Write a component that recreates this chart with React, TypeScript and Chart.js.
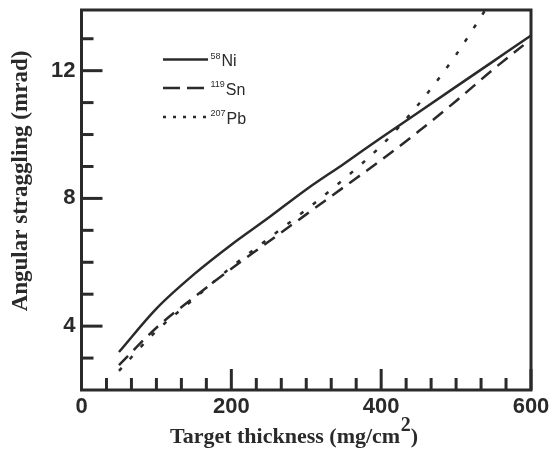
import { useEffect, useRef } from "react";
import { Chart, registerables } from "chart.js";

Chart.register(...registerables);

// ---- data ----
const niThickness = [50, 100, 150, 200, 250, 300, 350, 400, 450, 500, 550, 600];
const niStraggling = [3.19, 4.55, 5.62, 6.55, 7.4, 8.28, 9.08, 9.9, 10.7, 11.5, 12.3, 13.1];

const snThickness = [50, 100, 150, 200, 250, 300, 350, 400, 450, 500, 550, 590];
const snStraggling = [2.78, 3.95, 4.9, 5.8, 6.65, 7.5, 8.35, 9.2, 10.1, 11.05, 12.05, 12.8];

const pbThickness = [50, 100, 150, 200, 250, 300, 350, 400, 450, 500, 550];
const pbStraggling = [2.6, 3.85, 4.85, 5.85, 6.75, 7.65, 8.6, 9.65, 10.95, 12.5, 14.3];

const xMajorTicks = [0, 200, 400, 600];
const xMinorTicks = [
  100 / 3, 200 / 3, 100, 400 / 3, 500 / 3,
  700 / 3, 800 / 3, 300, 1000 / 3, 1100 / 3,
  1300 / 3, 1400 / 3, 500, 1600 / 3, 1700 / 3,
];
const yMajorTicks = [4, 8, 12];
const yMinorTicks = [3, 5, 6, 7, 9, 10, 11, 13];

const seriesLabels = [
  { sup: "58", main: "Ni" },
  { sup: "119", main: "Sn" },
  { sup: "207", main: "Pb" },
];
const xTitle = "Target thickness (mg/cm";
const xTitleSup = "2";
const xTitleEnd = ")";
const yTitle = "Angular straggling (mrad)";

const INK = "#2a2a2a";
const dashStyles: number[][] = [[], [13, 8], [4, 12]];
const legendDash: number[][] = [[], [17, 7], [3, 7]];

const decorPlugin = {
  id: "decor",
  afterDraw(chart: any) {
    const { ctx, chartArea, scales } = chart;
    const { left, right, top, bottom } = chartArea;
    const xs = scales.x;
    const ys = scales.y;
    ctx.save();
    ctx.strokeStyle = INK;
    ctx.fillStyle = INK;
    ctx.lineCap = "butt";
    // inward ticks
    ctx.lineWidth = 3;
    const tick = (x1: number, y1: number, x2: number, y2: number) => {
      ctx.beginPath();
      ctx.moveTo(x1, y1);
      ctx.lineTo(x2, y2);
      ctx.stroke();
    };
    xMajorTicks.forEach((v) => {
      const p = xs.getPixelForValue(v);
      tick(p, bottom, p, bottom - 21);
    });
    xMinorTicks.forEach((v) => {
      const p = xs.getPixelForValue(v);
      tick(p, bottom, p, bottom - 12);
    });
    yMajorTicks.forEach((v) => {
      const p = ys.getPixelForValue(v);
      tick(left, p, left + 21, p);
    });
    yMinorTicks.forEach((v) => {
      const p = ys.getPixelForValue(v);
      tick(left, p, left + 12, p);
    });
    // frame
    ctx.lineWidth = 3;
    ctx.strokeRect(left, top, right - left, bottom - top);

    // axis titles
    ctx.font = "bold 22px 'Liberation Serif'";
    ctx.textAlign = "left";
    ctx.textBaseline = "alphabetic";
    const tx = 170;
    const tb = 443;
    ctx.fillText(xTitle, tx, tb);
    const w1 = ctx.measureText(xTitle).width;
    ctx.font = "bold 20px 'Liberation Serif'";
    ctx.fillText(xTitleSup, tx + w1 + 0.5, tb - 12);
    const w2 = ctx.measureText(xTitleSup).width;
    ctx.font = "bold 22px 'Liberation Serif'";
    ctx.fillText(xTitleEnd, tx + w1 + w2 + 0.5, tb);

    ctx.save();
    ctx.translate(27, 181);
    ctx.rotate(-Math.PI / 2);
    ctx.font = "bold 23px 'Liberation Serif'";
    ctx.textAlign = "center";
    ctx.fillText(yTitle, 0, 0);
    ctx.restore();

    // legend
    const rowY = [top + 49.5, top + 78, top + 107];
    const lx0 = left + 81.5;
    const lx1 = left + 126.5;
    seriesLabels.forEach((s, i) => {
      const y = rowY[i];
      ctx.lineWidth = 2.5;
      ctx.setLineDash(legendDash[i]);
      ctx.beginPath();
      ctx.moveTo(lx0, y);
      ctx.lineTo(lx1, y);
      ctx.stroke();
      ctx.setLineDash([]);
      ctx.textAlign = "left";
      ctx.font = "9px 'Liberation Sans'";
      const sx = left + 129;
      ctx.fillText(s.sup, sx, y - 1);
      const sw = ctx.measureText(s.sup).width;
      ctx.font = "16px 'Liberation Sans'";
      ctx.fillText(s.main, sx + sw + 1, y + 6.5);
    });
    ctx.restore();
  },
};

export default function App() {
  const canvasRef = useRef<HTMLCanvasElement | null>(null);

  useEffect(() => {
    if (!canvasRef.current) return;
    const mk = (xsArr: number[], ysArr: number[]) =>
      xsArr.map((x, i) => ({ x, y: ysArr[i] }));
    const data = [
      mk(niThickness, niStraggling),
      mk(snThickness, snStraggling),
      mk(pbThickness, pbStraggling),
    ];
    const chart = new Chart(canvasRef.current, {
      type: "line",
      data: {
        datasets: data.map((d, i) => ({
          label: seriesLabels[i].sup + seriesLabels[i].main,
          data: d,
          borderColor: INK,
          borderWidth: 2.5,
          borderDash: dashStyles[i],
          pointRadius: 0,
          fill: false,
          cubicInterpolationMode: "monotone" as const,
        })),
      },
      options: {
        animation: false,
        responsive: true,
        maintainAspectRatio: false,
        layout: { padding: { top: 10, left: 0, right: 22, bottom: 0 } },
        plugins: { legend: { display: false }, tooltip: { enabled: false } },
        scales: {
          x: {
            type: "linear",
            min: 0,
            max: 600,
            grid: { display: false, drawTicks: false },
            border: { display: false },
            afterBuildTicks: (s: any) => {
              s.ticks = xMajorTicks.map((v) => ({ value: v }));
            },
            afterFit: (s: any) => {
              s.height = 64;
              s.paddingLeft = 0;
              s.paddingRight = 0;
            },
            ticks: {
              color: INK,
              padding: 4,
              maxRotation: 0,
              autoSkip: false,
              font: { family: "'Liberation Sans'", weight: "bold", size: 22 },
            },
          },
          y: {
            type: "linear",
            min: 2,
            max: 13.9,
            grid: { display: false, drawTicks: false },
            border: { display: false },
            afterBuildTicks: (s: any) => {
              s.ticks = yMajorTicks.map((v) => ({ value: v }));
            },
            afterFit: (s: any) => {
              s.width = 81.5;
              s.paddingTop = 0;
              s.paddingBottom = 0;
            },
            ticks: {
              color: INK,
              padding: 6,
              autoSkip: false,
              font: { family: "'Liberation Sans'", weight: "bold", size: 22 },
            },
          },
        },
      },
      plugins: [decorPlugin],
    });
    return () => chart.destroy();
  }, []);

  return (
    <div style={{ position: "absolute", left: 0, top: 0, width: 553, height: 454, background: "#fff" }}>
      <canvas ref={canvasRef} />
    </div>
  );
}
